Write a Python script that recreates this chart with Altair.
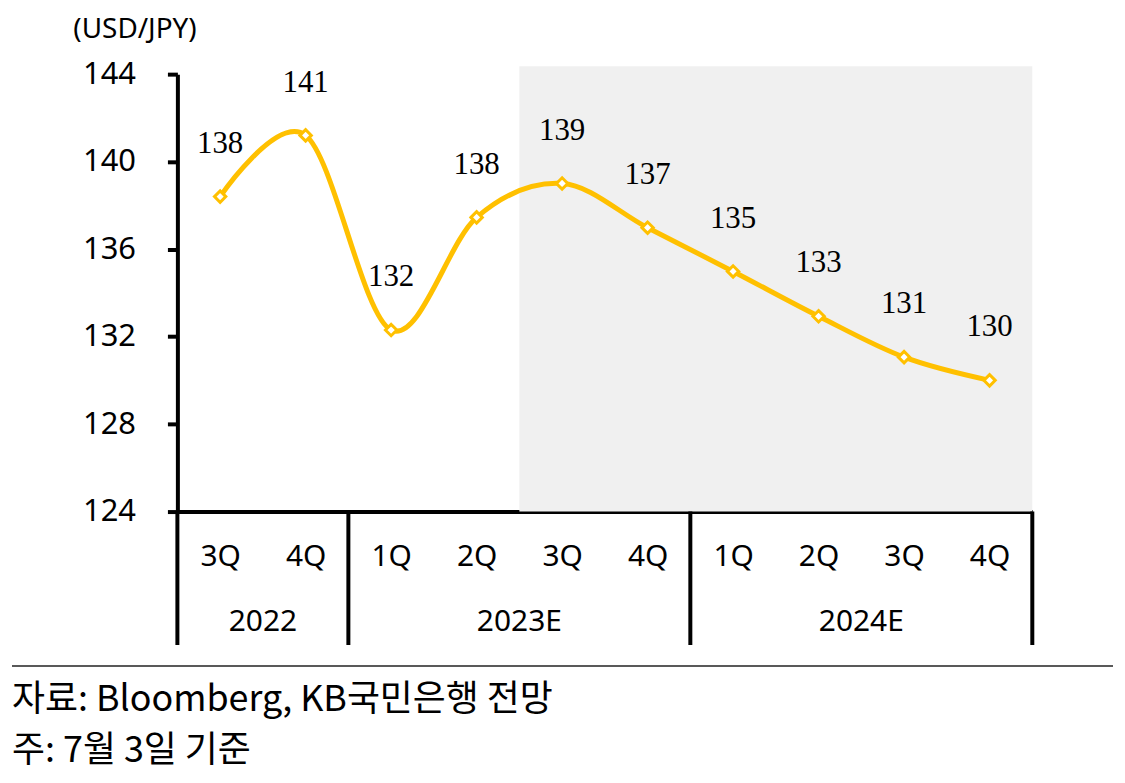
import altair as alt
import pandas as pd

# ---- data ----
quarters = ["3Q", "4Q", "1Q", "2Q", "3Q", "4Q", "1Q", "2Q", "3Q", "4Q"]
years = ["2022", "2022", "2023E", "2023E", "2023E", "2023E", "2024E", "2024E", "2024E", "2024E"]
values = [138.4, 141.2, 132.3, 137.45, 139.0, 136.98, 134.98, 132.93, 131.06, 130.0]
labels = ["138", "141", "132", "138", "139", "137", "135", "133", "131", "130"]

year_names = ["2022", "2023E", "2024E"]
year_centers = [0.5, 3.5, 7.5]
separators = [-0.5, 1.5, 5.5, 9.5]
forecast_start, forecast_end = 3.5, 9.5

source_note = "자료: Bloomberg, KB국민은행 전망"
date_note = "주: 7월 3일 기준"
unit_title = "(USD/JPY)"

df = pd.DataFrame({"idx": list(range(len(values))), "q": quarters, "year": years,
                   "value": values, "label": labels})
df_years = pd.DataFrame({"x": year_centers, "year": year_names})
df_sep = pd.DataFrame({"x": separators})
df_shade = pd.DataFrame({"x0": [forecast_start], "x1": [forecast_end], "y0": [124]})
df_one = pd.DataFrame({"a": [0]})

GOLD = "#FFC000"
SANS = "Noto Sans"
KR = "Noto Sans CJK KR"

qexpr = "[" + ",".join("'" + q + "'" for q in quarters) + "][datum.value]"

x_scale = alt.Scale(domain=[-0.5, 9.5], nice=False, zero=False)
y_scale = alt.Scale(domain=[124, 144], nice=False, zero=False)

x_axis = alt.Axis(values=list(range(10)), labelExpr=qexpr, ticks=False, tickSize=0,
                  grid=False, domainColor="black", domainWidth=4, title=None,
                  labelFont=SANS, labelFontSize=30, labelColor="black",
                  labelBaseline="alphabetic", labelPadding=54, labelFlush=False,
                  labelOverlap=False, labelAngle=0)
y_axis = alt.Axis(values=[124, 128, 132, 136, 140, 144], grid=False,
                  tickSize=10, tickWidth=4, tickColor="black",
                  domainColor="black", domainWidth=4,
                  labelFont=SANS, labelFontSize=31, labelColor="black",
                  labelPadding=32,
                  title=unit_title, titleAngle=0, titleAlign="center",
                  titleBaseline="middle", titleX=-43, titleY=-45,
                  titleFont=SANS, titleFontSize=28, titleFontWeight="normal",
                  titleColor="black")

shade = alt.Chart(df_shade).mark_rect(color="#F0F0F0").encode(
    x=alt.X("x0:Q", scale=x_scale, axis=x_axis),
    x2="x1:Q",
    y=alt.Y("y0:Q", scale=y_scale, axis=y_axis),
    y2=alt.value(-8),
)

base = alt.Chart(df).encode(
    x=alt.X("idx:Q", scale=x_scale),
    y=alt.Y("value:Q", scale=y_scale),
)

line = base.mark_line(color=GOLD, strokeWidth=5, interpolate="cardinal")
points = base.mark_point(shape="diamond", size=130, filled=True, fill="white",
                         stroke=GOLD, strokeWidth=3, opacity=1)
texts = base.mark_text(font="Liberation Serif", fontSize=31, color="black",
                       baseline="alphabetic", dy=-44).encode(text="label:N")

seps = alt.Chart(df_sep).mark_rule(color="black", strokeWidth=4).encode(
    x=alt.X("x:Q", scale=x_scale),
    y=alt.value(439), y2=alt.value(573),
)

year_text = alt.Chart(df_years).mark_text(font=SANS, fontSize=30, color="black",
                                          baseline="alphabetic").encode(
    x=alt.X("x:Q", scale=x_scale),
    y=alt.value(559),
    text="year:N",
)

footer_rule = alt.Chart(df_one).mark_rule(color="#222222", strokeWidth=1.5).encode(
    x=alt.value(-166), x2=alt.value(939), y=alt.value(594),
)

note1 = alt.Chart(df_one).mark_text(font=KR, fontSize=36, color="black",
                                    align="left", baseline="alphabetic").encode(
    x=alt.value(-166), y=alt.value(639), text=alt.value(source_note),
)
note2 = alt.Chart(df_one).mark_text(font=KR, fontSize=36, color="black",
                                    align="left", baseline="alphabetic").encode(
    x=alt.value(-166), y=alt.value(690), text=alt.value(date_note),
)

chart = alt.layer(shade, seps, line, points, texts, year_text, footer_rule, note1, note2).properties(
    width=858, height=439,
    autosize=alt.AutoSizeParams(type="none"),
    padding={"left": 170, "top": 65, "right": 85, "bottom": 262},
    background="white",
).configure_view(stroke=None)

chart.save("out.html", embed_options={"renderer": "svg", "actions": False})
